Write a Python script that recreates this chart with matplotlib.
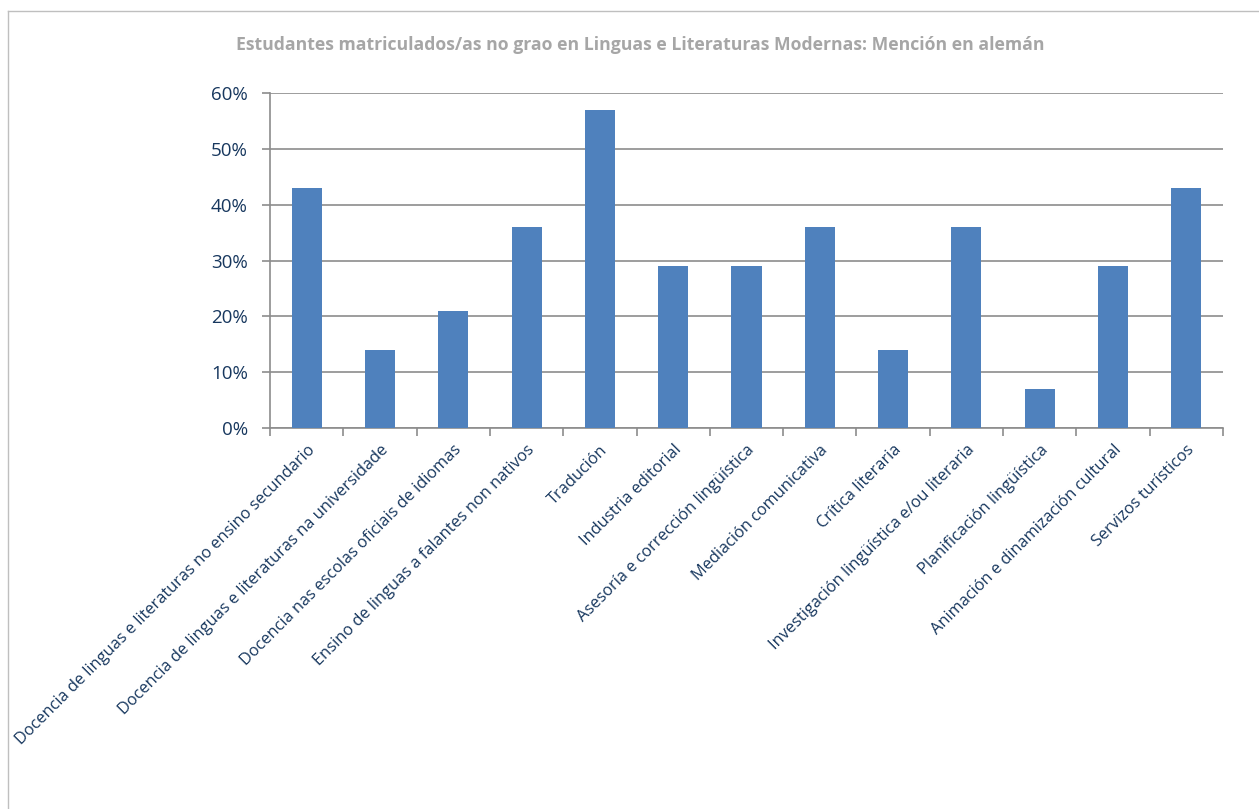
import matplotlib
matplotlib.use("Agg")
import matplotlib.pyplot as plt
from matplotlib.ticker import PercentFormatter, FixedLocator
from matplotlib.lines import Line2D

categories = [
    "Docencia de linguas e literaturas no ensino secundario",
    "Docencia de linguas e literaturas na universidade",
    "Docencia nas escolas oficiais de idiomas",
    "Ensino de linguas a falantes non nativos",
    "Tradución",
    "Industria editorial",
    "Asesoría e corrección lingüística",
    "Mediación comunicativa",
    "Crítica literaria",
    "Investigación lingüística e/ou literaria",
    "Planificación lingüística",
    "Animación e dinamización cultural",
    "Servizos turísticos",
]
values = [43, 14, 21, 36, 57, 29, 29, 36, 14, 36, 7, 29, 43]
yticks = [0, 10, 20, 30, 40, 50, 60]
title = "Estudantes matriculados/as no grao en Linguas e Literaturas Modernas: Mención en alemán"

plt.rcParams['font.family'] = ['Open Sans', 'DejaVu Sans']
text_color = "#17375E"
grid_color = "#8C8C8C"
bar_color = "#4F81BD"

fig = plt.figure(figsize=(12.59, 8.09), dpi=100)
ax = fig.add_axes([270/1259, 1 - 428/809, (1223-270)/1259, (428-93)/809])

x = list(range(len(categories)))
ax.bar(x, values, width=0.41, color=bar_color, zorder=3)

ax.set_xlim(-0.5, len(categories) - 0.5)
ax.set_ylim(0, 60)
ax.yaxis.set_major_locator(FixedLocator(yticks))
ax.yaxis.set_major_formatter(PercentFormatter(decimals=0))
ax.grid(axis='y', color=grid_color, linewidth=1.2, zorder=0)

for s in ['top', 'right']:
    ax.spines[s].set_visible(False)
for s in ['left', 'bottom']:
    ax.spines[s].set_color(grid_color)
    ax.spines[s].set_linewidth(1.2)

ax.tick_params(axis='y', length=6, width=1.2, color=grid_color, labelcolor=text_color,
               labelsize=13.5, pad=10)
ax.set_xticks([i - 0.5 for i in range(len(categories) + 1)], minor=False)
ax.set_xticklabels([])
ax.tick_params(axis='x', which='major', length=6, width=1.2, color=grid_color)
ax.set_xticks(x, minor=True)
ax.set_xticklabels(categories, minor=True, rotation=45, ha='right', va='top',
                   rotation_mode='anchor', fontsize=11.8, color=text_color)
ax.tick_params(axis='x', which='minor', length=0, pad=10)

fig.text(640/1259, 1 - 45/809, title, ha='center', va='center', fontsize=12.7,
         fontweight='bold', color='#A6A6A6')

# outer chart frame (top and left edges visible)
fig.add_artist(Line2D([8/1259, 1], [1 - 11/809, 1 - 11/809], transform=fig.transFigure,
                      color='#BFBFBF', linewidth=1))
fig.add_artist(Line2D([8/1259, 8/1259], [0, 1 - 11/809], transform=fig.transFigure,
                      color='#BFBFBF', linewidth=1))

fig.savefig("out.png", dpi=100)
